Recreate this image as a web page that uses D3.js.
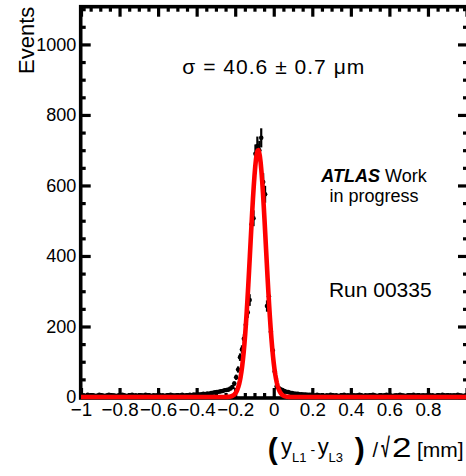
<!DOCTYPE html>
<html>
<head>
<meta charset="utf-8">
<script src="https://cdn.jsdelivr.net/npm/d3@7"></script>
<style>
  html, body { margin: 0; padding: 0; background: #fff; }
  svg { display: block; font-family: "Liberation Sans", Arial, Helvetica, sans-serif; }
</style>
</head>
<body>
<svg id="chart" width="466" height="476"></svg>
<script>
// Histogram: 200 bins of width 0.01 mm from -1 to 1
const binLow = -1;
const binWidth = 0.01;
const counts = [
  // -1.00 .. -0.45
  4,5,3,6,4,5,5,3,4,6, 5,4,3,5,6,4,5,4,3,5, 4,6,5,3,4,5,6,4,5,3,
  4,5,4,6,5,4,3,5,4,5, 6,4,5,3,5,4,6,5,4,5, 3,5,6,4,5,
  // -0.45 .. -0.30
  5,6,5,7,6,8,7,8,9,8, 10,9,11,12,13,
  // -0.30 .. -0.20
  14,15,16,17,19,20,21,24,28,38,
  // -0.20 .. 0.00 (peak)
  56,78,113,135,165,205,240,275,490,507,
  690,712,700,735,610,575,258,285,185,132,
  // 0.00 .. 0.20
  72,30,26,22,20,17,15,14,12,11,
  10,9,9,8,8,7,7,6,6,6,
  // 0.20 .. 1.00
  5,4,6,5,4,5,3,5,4,6, 5,4,5,3,4,5,6,4,5,4,
  3,5,4,5,6,4,3,5,4,5, 4,6,5,3,4,5,4,5,6,4,
  5,3,4,5,4,6,5,4,3,5, 4,5,6,4,5,3,4,5,4,5,
  6,4,5,3,4,5,4,6,5,4, 3,5,4,5,4,6,5,4,3,5
];

// Gaussian fit result
const fitAmplitude = 700;
const fitMean = -0.081;
const fitSigma = 0.0406;

const xTickValues = [-1, -0.8, -0.6, -0.4, -0.2, 0, 0.2, 0.4, 0.6, 0.8];
const xTickLabels = ["\u22121", "\u22120.8", "\u22120.6", "\u22120.4", "\u22120.2", "0", "0.2", "0.4", "0.6", "0.8"];
const yTickValues = [0, 200, 400, 600, 800, 1000];
const yTickLabels = ["0", "200", "400", "600", "800", "1000"];

const svg = d3.select("#chart");

const frameL = 80.7, frameR = 468, frameT = 6.7, frameB = 398;
const x = d3.scaleLinear().domain([-1, 1]).range([81, 466.5]);
const y = d3.scaleLinear().domain([0, 1107]).range([397, frameT]);

const xMajor = d3.range(-1, 1.0001, 0.2).map(v => +v.toFixed(2));
const xMinor = d3.range(-1, 1.0001, 0.05).map(v => +v.toFixed(2))
  .filter(v => !xMajor.some(m => Math.abs(m - v) < 1e-6));
const yMajor = d3.range(0, 1101, 200);
const yMinor = d3.range(0, 1101, 50).filter(v => v % 200 !== 0);

function tickAxis(axis, values, size, transform) {
  const g = svg.append("g").attr("transform", transform)
    .call(axis.tickValues(values).tickSize(size).tickFormat(""));
  g.select(".domain").remove();
  g.selectAll(".tick line").attr("stroke", "#000").attr("stroke-width", 3.2);
  g.selectAll(".tick text").remove();
}

// Frame ticks on all four sides, pointing inward
tickAxis(d3.axisRight(y), yMajor, 10, `translate(${frameL},0)`);
tickAxis(d3.axisRight(y), yMinor, 5, `translate(${frameL},0)`);
tickAxis(d3.axisLeft(y), yMajor, 10, `translate(${frameR},0)`);
tickAxis(d3.axisLeft(y), yMinor, 5, `translate(${frameR},0)`);
tickAxis(d3.axisTop(x), xMajor, 10, `translate(0,${frameB})`);
tickAxis(d3.axisTop(x), xMinor, 5, `translate(0,${frameB})`);
tickAxis(d3.axisBottom(x), xMajor, 10, `translate(0,${frameT})`);
tickAxis(d3.axisBottom(x), xMinor, 5, `translate(0,${frameT})`);

// Frame
svg.append("rect")
  .attr("x", frameL).attr("y", frameT)
  .attr("width", frameR - frameL).attr("height", frameB - frameT)
  .attr("fill", "none").attr("stroke", "#000").attr("stroke-width", 3.6);

// Tick labels
const yLab = svg.append("g").attr("transform", `translate(${frameL},0)`)
  .call(d3.axisLeft(y).tickValues(yTickValues).tickSize(0).tickPadding(4.5)
    .tickFormat((d, i) => yTickLabels[i]));
yLab.select(".domain").remove();
yLab.selectAll("text").attr("font-size", 18).attr("fill", "#000")
  .attr("font-family", "Liberation Sans, Arial, sans-serif");

const xLab = svg.append("g").attr("transform", `translate(0,${frameB})`)
  .call(d3.axisBottom(x).tickValues(xTickValues).tickSize(0).tickPadding(4.4)
    .tickFormat((d, i) => xTickLabels[i]));
xLab.select(".domain").remove();
xLab.selectAll("text").attr("font-size", 18.8).attr("fill", "#000")
  .attr("font-family", "Liberation Sans, Arial, sans-serif");

// Data points with statistical error bars
const points = counts.map((c, i) => ({
  lo: binLow + i * binWidth,
  hi: binLow + (i + 1) * binWidth,
  c: binLow + (i + 0.5) * binWidth,
  n: c
}));
const pts = svg.append("g");
pts.selectAll("line.ey").data(points).join("line").attr("class", "ey")
  .attr("x1", d => x(d.c)).attr("x2", d => x(d.c))
  .attr("y1", d => y(d.n + Math.sqrt(d.n))).attr("y2", d => y(Math.max(0, d.n - Math.sqrt(d.n))))
  .attr("stroke", "#000").attr("stroke-width", 2.2);
pts.selectAll("line.ex").data(points).join("line").attr("class", "ex")
  .attr("x1", d => x(d.lo)).attr("x2", d => x(d.hi))
  .attr("y1", d => y(d.n)).attr("y2", d => y(d.n))
  .attr("stroke", "#000").attr("stroke-width", 2.2);
pts.selectAll("circle").data(points).join("circle")
  .attr("cx", d => x(d.c)).attr("cy", d => y(d.n)).attr("r", 2.3)
  .attr("fill", "#000");

// Fitted Gaussian
const fitX = d3.range(-1, 1.00001, 0.004);
const gauss = v => fitAmplitude * Math.exp(-0.5 * Math.pow((v - fitMean) / fitSigma, 2));
svg.append("path")
  .datum(fitX)
  .attr("fill", "none").attr("stroke", "#ff0000").attr("stroke-width", 4.6)
  .attr("stroke-linejoin", "round")
  .attr("d", d3.line().x(v => x(v)).y(v => y(gauss(v))));

// Axis titles
svg.append("text")
  .attr("transform", "translate(33.5,6.7) rotate(-90)")
  .attr("text-anchor", "end").attr("font-size", 22).text("Events");

const t = svg.append("g").attr("fill", "#000");
t.append("text").attr("x", 267.8).attr("y", 459).attr("font-size", 30).attr("font-weight", "bold").text("(");
t.append("text").attr("x", 281).attr("y", 453.5).attr("font-size", 22).text("y");
t.append("text").attr("x", 292).attr("y", 461.5).attr("font-size", 13).text("L1");
t.append("text").attr("x", 310.5).attr("y", 455).attr("font-size", 14).text("-");
t.append("text").attr("x", 317.7).attr("y", 453.5).attr("font-size", 22).text("y");
t.append("text").attr("x", 328.5).attr("y", 461.5).attr("font-size", 13).text("L3");
t.append("text").attr("x", 354.8).attr("y", 459).attr("font-size", 30).attr("font-weight", "bold").text(")");
t.append("text").attr("x", 372.5).attr("y", 456.5).attr("font-size", 20).text("/");
// narrow, tall radical sign
t.append("text").attr("transform", "translate(381.3,457) scale(0.58,1)")
  .attr("font-size", 27).attr("font-weight", "bold").text("\u221A");
t.append("text").attr("transform", "translate(392,456.7) scale(1.3,1)")
  .attr("font-size", 27).text("2");
t.append("text").attr("x", 417).attr("y", 457).attr("font-size", 21).text("[mm]");

// Annotations
svg.append("text").attr("x", 273.3).attr("y", 74).attr("text-anchor", "middle")
  .attr("font-size", 21).attr("textLength", 182).attr("lengthAdjust", "spacing")
  .text("\u03C3 = 40.6 \u00B1 0.7 \u03BCm");

const atlas = svg.append("text").attr("x", 374).attr("y", 181.7)
  .attr("text-anchor", "middle").attr("font-size", 18);
atlas.append("tspan").attr("font-weight", "bold").attr("font-style", "italic").text("ATLAS");
atlas.append("tspan").text(" Work");
svg.append("text").attr("x", 374).attr("y", 201.7).attr("text-anchor", "middle")
  .attr("font-size", 18).text("in progress");

svg.append("text").attr("x", 380.3).attr("y", 296.7).attr("text-anchor", "middle")
  .attr("font-size", 21).text("Run 00335");
</script>
</body>
</html>
